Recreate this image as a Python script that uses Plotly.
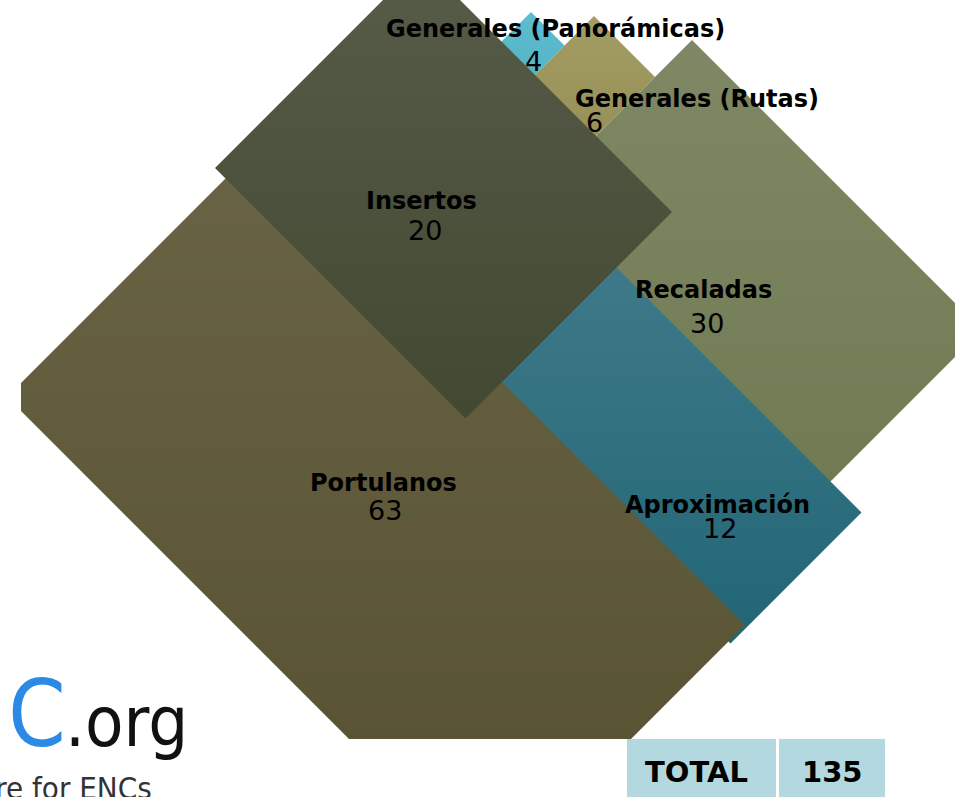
import plotly.graph_objects as go

# ---------------- data ----------------
categories = ["Generales (Panorámicas)", "Generales (Rutas)", "Recaladas",
              "Aproximación", "Portulanos", "Insertos"]
values = [4, 6, 30, 12, 63, 20]
total_label = "TOTAL"

# ---------------- layout / style (rotated frame: s = x - y, t = x + y) ----------------
tile_s = [(452, 519), (440, 578), (120, 652), (87, 349), (-390, 120), (47, 460)]
tile_t = [(543, 610), (610, 732), (732, 1312), (700, 1374), (404, 1370), (383, 884)]
tile_colors = [("#5fbdd0", "#55b3c6"), ("#a39d63", "#968f56"), ("#7f8864", "#6c774f"),
               ("#457e8d", "#216676"), ("#6a6446", "#55502f"), ("#565c48", "#424831")]
label_pos = [(555, 29), (697, 99), (703, 290), (717, 505), (383, 483), (421, 201)]
value_pos = [(533, 61), (594, 122), (707, 323), (720, 528), (385, 510), (425, 230)]

W, H = 955, 797
FONT = "DejaVu Sans"


def px(x):
    return x / W


def py(y):
    return 1 - y / H


def tile_xy(s_rng, t_rng):
    s0, s1 = s_rng
    t0, t1 = t_rng
    pts = [(s1, t0), (s1, t1), (s0, t1), (s0, t0), (s1, t0)]
    xs = [(s + t) / 2 for s, t in pts]
    ys = [(t - s) / 2 for s, t in pts]
    return xs, ys


fig = go.Figure()
for i, cat in enumerate(categories):
    xs, ys = tile_xy(tile_s[i], tile_t[i])
    top, bot = tile_colors[i]
    fig.add_trace(go.Scatter(
        x=xs, y=ys, mode="lines", fill="toself",
        line=dict(width=0, color="rgba(0,0,0,0)"),
        fillcolor=top,
        fillgradient=dict(type="vertical", colorscale=[[0, top], [1, bot]],
                          start=min(ys), stop=max(ys)),
        hoverinfo="skip", name=cat, showlegend=False))

annotations = []
for i, cat in enumerate(categories):
    lx, ly = label_pos[i]
    vx, vy = value_pos[i]
    annotations.append(dict(x=lx, y=ly, xref="x", yref="y", text=f"<b>{cat}</b>",
                            showarrow=False, xanchor="center", yanchor="middle",
                            borderpad=0,
                            font=dict(family=FONT, size=24, color="#000000")))
    annotations.append(dict(x=vx, y=vy, xref="x", yref="y", text=str(values[i]),
                            showarrow=False, xanchor="center", yanchor="middle",
                            borderpad=0,
                            font=dict(family=FONT, size=27, color="#000000")))

# TOTAL table
cells = [(627, 776), (779, 885)]
shapes = []
for x0, x1 in cells:
    shapes.append(dict(type="rect", xref="paper", yref="paper",
                       x0=px(x0), x1=px(x1), y0=py(805), y1=py(739),
                       fillcolor="#b3d8df", line=dict(width=0), layer="above"))
annotations.append(dict(x=px(696), y=py(772), xref="paper", yref="paper",
                        text=f"<b>{total_label}</b>", showarrow=False,
                        xanchor="center", yanchor="middle",
                        font=dict(family=FONT, size=29, color="#000000")))
annotations.append(dict(x=px(832), y=py(772), xref="paper", yref="paper",
                        text=f"<b>{sum(values)}</b>", showarrow=False,
                        xanchor="center", yanchor="middle",
                        font=dict(family=FONT, size=29, color="#000000")))

# logo (cropped at the left edge)
LOGO_FONT = "DejaVu Sans Condensed, Liberation Sans Narrow, DejaVu Sans"
annotations.append(dict(x=px(67), y=py(714), xref="paper", yref="paper",
                        text="NC", showarrow=False, xanchor="right", yanchor="middle",
                        borderpad=0,
                        font=dict(family=LOGO_FONT, size=92, color="#2a8ae6")))
annotations.append(dict(x=px(64), y=py(722), xref="paper", yref="paper",
                        text=".org", showarrow=False, xanchor="left", yanchor="middle",
                        borderpad=0,
                        font=dict(family=LOGO_FONT, size=70, color="#111111")))
annotations.append(dict(x=px(154), y=py(768), xref="paper", yref="paper",
                        text="Centre for ENCs", showarrow=False, xanchor="right",
                        yanchor="top",
                        font=dict(family=LOGO_FONT, size=31, color="#333333")))

fig.update_layout(
    width=W, height=H, margin=dict(l=0, r=0, t=0, b=0),
    paper_bgcolor="white", plot_bgcolor="rgba(0,0,0,0)",
    showlegend=False,
    xaxis=dict(range=[21, W], domain=[21 / W, 1], visible=False, fixedrange=True),
    yaxis=dict(range=[739, 0], domain=[(H - 739) / H, 1], visible=False, fixedrange=True),
    shapes=shapes, annotations=annotations,
)

fig.write_html("out.html", post_script="document.body.style.margin='0';",
               config={"displayModeBar": False})
